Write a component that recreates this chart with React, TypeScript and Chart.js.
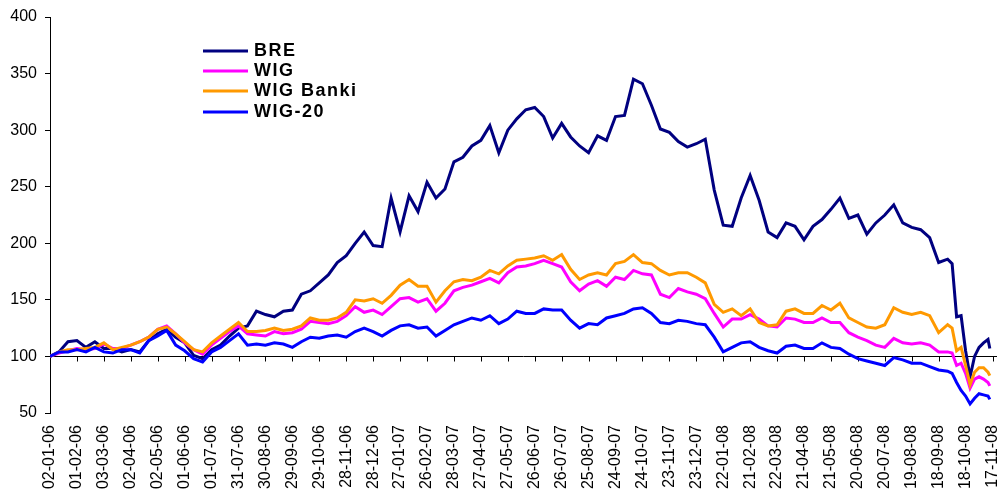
import { useEffect, useRef } from 'react';
import { Chart, registerables } from 'chart.js';

Chart.register(...registerables);

const FONT = '"Liberation Sans", Arial, Helvetica, sans-serif';

// x-axis ticks: every 30 days starting 02-01-2006 (day offsets)
const tickDays = [0, 30, 60, 90, 120, 150, 180, 210, 240, 270, 300, 330, 360, 390, 420, 450, 480, 510, 540, 570, 600, 630, 660, 690, 720, 750, 780, 810, 840, 870, 900, 930, 960, 990, 1020, 1050];
const tickLabels = [
  '02-01-06', '01-02-06', '03-03-06', '02-04-06', '02-05-06', '01-06-06', '01-07-06', '31-07-06', '30-08-06', '29-09-06',
  '29-10-06', '28-11-06', '28-12-06', '27-01-07', '26-02-07', '28-03-07', '27-04-07', '27-05-07', '26-06-07', '26-07-07',
  '25-08-07', '24-09-07', '24-10-07', '23-11-07', '23-12-07', '22-01-08', '21-02-08', '22-03-08', '21-04-08', '21-05-08',
  '20-06-08', '20-07-08', '19-08-08', '18-09-08', '18-10-08', '17-11-08',
];

// sample dates (days after 02-01-2006)
const dayOffsets = [
  0, 10, 20, 30, 40, 50, 60, 70, 80, 90,
  100, 110, 120, 130, 140, 150, 160, 170, 180, 190,
  200, 210, 220, 230, 240, 250, 260, 270, 280, 290,
  300, 310, 320, 330, 340, 350, 360, 370, 380, 390,
  400, 410, 420, 430, 440, 450, 460, 470, 480, 490,
  500, 510, 520, 530, 540, 550, 560, 570, 580, 590,
  600, 610, 620, 630, 640, 650, 660, 670, 680, 690,
  700, 710, 720, 730, 740, 750, 760, 770, 780, 790,
  800, 810, 820, 830, 840, 850, 860, 870, 880, 890,
  900, 910, 920, 930, 940, 950, 960, 970, 980, 990,
  1000, 1005, 1010, 1015, 1020, 1025, 1030, 1035, 1040, 1045, 1047,
];

const bre = [
  100, 104, 113, 114, 108, 113, 107, 107, 104, 106,
  104, 114, 120, 124, 117, 112, 101, 98, 106, 110,
  118, 125, 127, 140, 137, 135, 140, 141, 155, 158,
  165, 172, 183, 189, 200, 210, 198, 197, 240, 210,
  242, 228, 254, 240, 248, 272, 276, 286, 291, 304,
  280, 300, 310, 318, 320, 312, 293, 306, 294, 286,
  280, 295, 291, 312, 313, 345, 341, 322, 301, 298,
  290, 285, 288, 292, 247, 216, 215, 240, 260, 238,
  210, 205, 218, 215, 203, 215, 221, 230, 240, 222,
  225, 208, 218, 225, 234, 218, 214, 212, 205, 183,
  186, 182, 135, 136, 105, 82, 100, 108, 112, 115, 107,
];

const wig = [
  100, 103, 105, 107, 106, 107, 111, 107, 107, 110,
  113, 117, 124, 127, 120, 112, 106, 102, 110, 116,
  122, 127, 120, 119, 118, 122, 120, 121, 124, 131,
  130, 129, 131, 136, 144, 139, 141, 137, 144, 151,
  152, 148, 151, 140, 147, 158, 161, 163, 166, 169,
  165, 174, 179, 180, 182, 185, 182, 179, 166, 158,
  164, 167, 162, 170, 168, 176, 173, 172, 155, 152,
  160, 157, 155, 151, 138, 126, 133, 133, 137, 133,
  127, 126, 134, 133, 130, 130, 134, 130, 130, 121,
  117, 114, 110, 108, 116, 112, 111, 112, 110, 104,
  104, 103, 92, 94, 85, 72, 80, 82, 80, 77, 74,
];

const wigBanki = [
  100, 104, 106, 106, 107, 108, 112, 106, 108, 110,
  113, 117, 124, 126, 120, 113, 106, 104, 112, 118,
  124, 130, 122, 122, 123, 125, 123, 124, 127, 134,
  132, 132, 134, 139, 150, 149, 151, 147, 154, 163,
  168, 162, 162, 148, 158, 166, 168, 167, 170, 176,
  173, 180, 185, 186, 187, 189, 185, 190, 177, 168,
  172, 174, 172, 182, 184, 190, 183, 182, 176, 172,
  174, 174, 170, 165, 146, 139, 142, 136, 142, 130,
  127, 128, 140, 142, 138, 138, 145, 141, 147, 134,
  130, 126, 125, 128, 143, 139, 137, 139, 136, 121,
  128, 125, 105, 108, 92, 75, 86, 90, 90, 86, 83,
];

const wig20 = [
  100, 104, 104, 106, 104, 108, 104, 103, 106, 106,
  103, 114, 118, 123, 110, 105, 98, 95, 104, 108,
  114, 120, 110, 111, 110, 112, 111, 108, 113, 117,
  116, 118, 119, 117, 122, 125, 122, 118, 123, 127,
  128, 125, 126, 118, 123, 128, 131, 134, 132, 136,
  129, 133, 140, 138, 138, 142, 141, 141, 132, 125,
  129, 128, 134, 136, 138, 142, 143, 138, 130, 129,
  132, 131, 129, 128, 117, 104, 108, 112, 113, 108,
  105, 103, 109, 110, 107, 107, 112, 108, 107, 102,
  98, 96, 94, 92, 99, 97, 94, 94, 91, 88,
  87, 85, 77, 70, 65, 58, 63, 67, 66, 65, 62,
];

const seriesNames = ['BRE', 'WIG', 'WIG Banki', 'WIG-20'];
const seriesColors = ['#000080', '#FF00FF', '#FF9900', '#0000FF'];
const seriesValues = [bre, wig, wigBanki, wig20];

const baselinePlugin = {
  id: 'baseline100',
  beforeDatasetsDraw(chart: any) {
    const { ctx, chartArea, scales } = chart;
    const x = scales.x;
    const y = scales.y;
    const py = Math.round(y.getPixelForValue(100)) + 0.5;
    ctx.save();
    ctx.strokeStyle = '#000';
    ctx.lineWidth = 1;
    ctx.beginPath();
    ctx.moveTo(chartArea.left, py);
    ctx.lineTo(chartArea.right, py);
    x.ticks.forEach((t: any) => {
      const px = Math.round(x.getPixelForValue(t.value)) + 0.5;
      ctx.moveTo(px, py);
      ctx.lineTo(px, py + 5);
    });
    ctx.stroke();
    ctx.restore();
  },
};

const legendPlugin = {
  id: 'customLegend',
  afterDraw(chart: any) {
    const { ctx } = chart;
    const rowY = [51, 71, 91, 112];
    ctx.save();
    chart.data.datasets.forEach((ds: any, i: number) => {
      const y = rowY[i];
      ctx.strokeStyle = ds.borderColor;
      ctx.lineWidth = 3;
      ctx.beginPath();
      ctx.moveTo(203, y);
      ctx.lineTo(248, y);
      ctx.stroke();
      ctx.fillStyle = '#000';
      ctx.font = `bold 18px ${FONT}`;
      try { (ctx as any).letterSpacing = '1.5px'; } catch (e) { /* ignore */ }
      ctx.textBaseline = 'middle';
      ctx.textAlign = 'left';
      ctx.fillText(ds.label, 254, y);
    });
    ctx.restore();
  },
};

export default function App() {
  const canvasRef = useRef<HTMLCanvasElement | null>(null);

  useEffect(() => {
    document.body.style.margin = '0';
    const canvas = canvasRef.current;
    if (!canvas) return;
    const datasets = seriesNames.map((name, i) => ({
      label: name,
      data: dayOffsets.map((d, j) => ({ x: d, y: seriesValues[i][j] })),
      borderColor: seriesColors[i],
      backgroundColor: seriesColors[i],
      borderWidth: 3,
      pointRadius: 0,
      tension: 0,
      fill: false,
      order: seriesNames.length - i,
    }));
    const chart = new Chart(canvas, {
      type: 'line',
      data: { datasets },
      options: {
        animation: false,
        responsive: false,
        maintainAspectRatio: false,
        layout: { padding: { top: 17, right: 0, left: 0, bottom: 0 } },
        plugins: {
          legend: { display: false },
          tooltip: { enabled: false },
        },
        scales: {
          x: {
            type: 'linear',
            min: 0,
            max: 1055,
            afterBuildTicks: (s: any) => {
              s.ticks = tickDays.map((v) => ({ value: v }));
            },
            afterFit: (s: any) => {
              s.height = 81;
              s.paddingLeft = 0;
              s.paddingRight = 0;
            },
            ticks: {
              autoSkip: false,
              maxRotation: 90,
              minRotation: 90,
              padding: 12,
              color: '#000',
              font: { size: 16, family: FONT },
              callback: (_v: any, i: number) => tickLabels[i],
            },
            grid: { display: false, drawTicks: false },
            border: { display: false },
          },
          y: {
            min: 50,
            max: 400,
            afterFit: (s: any) => {
              s.width = 50;
              s.paddingTop = 0;
              s.paddingBottom = 0;
            },
            ticks: {
              stepSize: 50,
              padding: 8,
              color: '#000',
              font: { size: 16, family: FONT },
            },
            grid: {
              display: true,
              drawOnChartArea: false,
              drawTicks: true,
              tickLength: 5,
              color: '#000',
            },
            border: { display: true, color: '#000', width: 1 },
          },
        },
      },
      plugins: [baselinePlugin, legendPlugin],
    } as any);
    return () => chart.destroy();
  }, []);

  return (
    <div style={{ width: 997, height: 494 }}>
      <canvas ref={canvasRef} width={997} height={494} style={{ display: 'block' }} />
    </div>
  );
}
